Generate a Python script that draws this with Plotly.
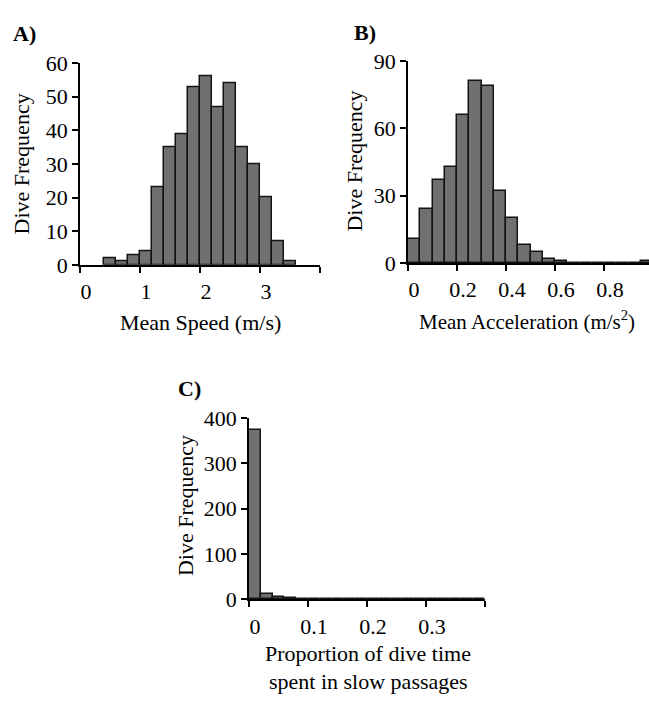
import plotly.graph_objects as go

# ---- data ----
speed_bin_start = [0.4, 0.6, 0.8, 1.0, 1.2, 1.4, 1.6, 1.8, 2.0, 2.2, 2.4, 2.6, 2.8, 3.0, 3.2, 3.4]
speed_counts = [2, 1, 3, 4, 23, 35, 39, 53, 56, 47, 54, 35, 30, 20, 7, 1]
speed_bin_width = 0.2

accel_bin_start = [0.0, 0.05, 0.10, 0.15, 0.20, 0.25, 0.30, 0.35, 0.40, 0.45, 0.50, 0.55, 0.60,
                   0.65, 0.70, 0.75, 0.80, 0.85, 0.90, 0.95]
accel_counts = [11, 24, 37, 43, 66, 81, 79, 32, 20, 8, 5, 2, 1, 0, 0, 0, 0, 0, 0, 1]
accel_bin_width = 0.05

slow_bin_start = [0.00, 0.02, 0.04, 0.06, 0.08, 0.10, 0.12, 0.14, 0.16, 0.18, 0.20, 0.22, 0.24,
                  0.26, 0.28, 0.30, 0.32, 0.34, 0.36, 0.38]
slow_counts = [374, 12, 5, 3, 1, 2, 1, 1, 0, 1, 1, 1, 2, 1, 0, 0, 0, 1, 1, 0]
slow_bin_width = 0.02

speed_ticks = [0, 1, 2, 3]
speed_ticklabels = ["0", "1", "2", "3"]
speed_end_tick = [4]
accel_ticks = [0, 0.2, 0.4, 0.6, 0.8]
accel_ticklabels = ["0", "0.2", "0.4", "0.6", "0.8"]
slow_ticks = [0, 0.1, 0.2, 0.3]
slow_ticklabels = ["0", "0.1", "0.2", "0.3"]
slow_end_tick = [0.4]

# ---- style ----
W, H = 649, 714
FONT = "Liberation Serif"
FS = 22
BAR_FILL = "#707070"
BAR_LINE = "#141414"


def px_x(p):
    return p / W


def px_y(p):
    return 1 - p / H


fig = go.Figure()


def add_hist(starts, counts, width, xa, ya):
    fig.add_trace(go.Bar(
        x=starts, y=counts, width=width, offset=0,
        marker=dict(color=BAR_FILL, line=dict(color=BAR_LINE, width=1.5)),
        xaxis=xa, yaxis=ya, showlegend=False, hoverinfo="x+y",
    ))


add_hist(speed_bin_start, speed_counts, speed_bin_width, "x", "y")
add_hist(accel_bin_start, accel_counts, accel_bin_width, "x2", "y2")
add_hist(slow_bin_start, slow_counts, slow_bin_width, "x3", "y3")

axis_common = dict(
    showline=True, linecolor="black", linewidth=1.5,
    ticks="outside", ticklen=6, tickwidth=1.5, tickcolor="black",
    showgrid=False, zeroline=False, fixedrange=True,
    tickfont=dict(family=FONT, size=FS, color="black"),
)


def end_tick(vals):
    return dict(tickvals=vals, ticks="outside", ticklen=6, tickwidth=1.5,
                tickcolor="black", showgrid=False)


# panel geometry (pixels)
A_x = (80, 320); A_y = (53, 262)
B_x = (408, 649); B_y = (50.7, 260.3)
C_x = (249, 485); C_y = (420.7, 608.7)

fig.update_layout(
    width=W, height=H,
    margin=dict(l=0, r=0, t=0, b=0),
    paper_bgcolor="white", plot_bgcolor="white",
    bargap=0,
    font=dict(family=FONT, size=FS, color="black"),
    xaxis=dict(domain=[px_x(A_x[0]), px_x(A_x[1])], range=[0, 4], anchor="y",
               tickvals=speed_ticks, ticktext=speed_ticklabels, ticklabelshift=6,
               minor=end_tick(speed_end_tick), **axis_common),
    yaxis=dict(domain=[px_y(A_y[1]), px_y(A_y[0])], range=[0, 60], anchor="x",
               tickvals=[0, 10, 20, 30, 40, 50, 60], **axis_common),
    xaxis2=dict(domain=[px_x(B_x[0]), px_x(B_x[1])], range=[0, (B_x[1] - B_x[0]) / 245.0], anchor="y2",
                tickvals=accel_ticks, ticktext=accel_ticklabels, ticklabelshift=6, **axis_common),
    yaxis2=dict(domain=[px_y(B_y[1]), px_y(B_y[0])], range=[0, 90], anchor="x2",
                tickvals=[0, 30, 60, 90], **axis_common),
    xaxis3=dict(domain=[px_x(C_x[0]), px_x(C_x[1])], range=[0, 0.4], anchor="y3",
                tickvals=slow_ticks, ticktext=slow_ticklabels, ticklabelshift=6,
                minor=end_tick(slow_end_tick), **axis_common),
    yaxis3=dict(domain=[px_y(C_y[1]), px_y(C_y[0])], range=[0, 400], anchor="x3",
                tickvals=[0, 100, 200, 300, 400], **axis_common),
)


def ann(text, x, y, xanchor="center", yanchor="middle", angle=0, bold=False, size=FS):
    fig.add_annotation(
        text=f"<b>{text}</b>" if bold else text,
        x=px_x(x), y=px_y(y), xref="paper", yref="paper",
        xanchor=xanchor, yanchor=yanchor, textangle=angle, showarrow=False,
        font=dict(family=FONT, size=size, color="black"),
    )


# panel labels
ann("A)", 11, 22, xanchor="left", bold=True)
ann("B)", 352, 21, xanchor="left", bold=True)
ann("C)", 176, 390, xanchor="left", bold=True)

# y titles
ann("Dive Frequency", 21, 158, angle=-90)
ann("Dive Frequency", 355, 155, angle=-90)
ann("Dive Frequency", 185, 512, angle=-90)

# x titles
ann("Mean Speed (m/s)", 200, 322)
ann("Mean Acceleration (m/s<sup>2</sup>)", 527, 320, size=21)
ann("Proportion of dive time", 368, 665)
ann("spent in slow passages", 368, 694)

fig.write_html(
    "out.html",
    config={"displayModeBar": False},
    post_script="document.body.style.margin='0';document.body.style.overflow='hidden';",
)
